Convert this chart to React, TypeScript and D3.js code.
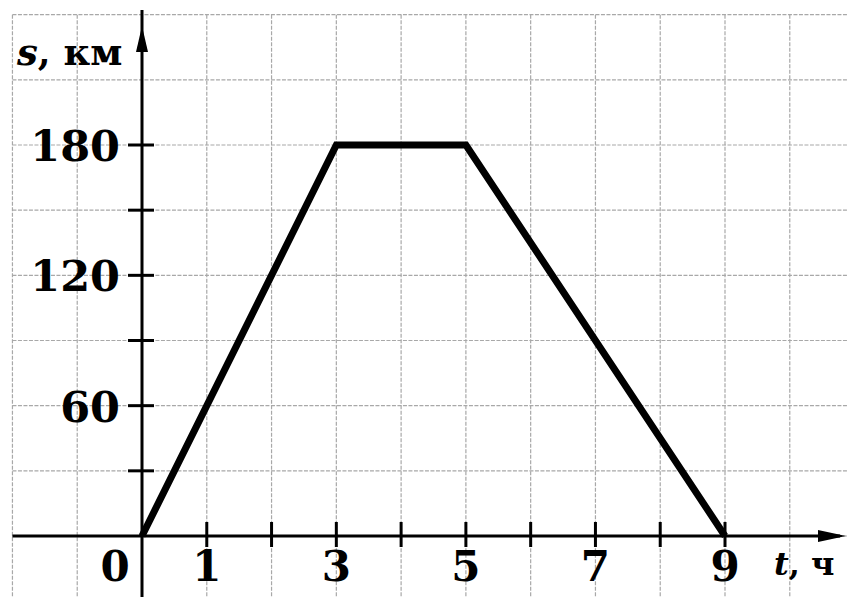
import React from 'react';
import * as d3 from 'd3';

// points of the distance/time graph
const hours = [0, 3, 5, 9];
const distance = [0, 180, 180, 0];

const yTickLabels = [60, 120, 180];
const xTickLabels = [0, 1, 3, 5, 7, 9];
const yTicks = [30, 60, 90, 120, 150, 180];
const xTicks = [1, 2, 3, 4, 5, 6, 7, 8, 9];

export default function App() {
  const width = 848, height = 597;

  const x = d3.scaleLinear().domain([0, 9]).range([142, 725]);
  const y = d3.scaleLinear().domain([0, 180]).range([536, 145]);

  const gridX = d3.range(-2, 13);
  const gridY = d3.range(0, 270, 30);

  const line = d3.line<number>()
    .x((d, i) => x(hours[i]))
    .y(d => y(d));

  const font = '"DejaVu Serif", serif';
  const x0 = x(0), y0 = y(0);

  return (
    <svg width={width} height={height} style={{ position: 'absolute', left: 0, top: 0, background: '#fff' }}>
      <g stroke="#a8a8a8" strokeWidth={1.2} strokeDasharray="4 1.5">
        {gridX.map(v => (
          <line key={'gx' + v} x1={x(v)} x2={x(v)} y1={y(240)} y2={height} />
        ))}
        {gridY.map(v => (
          <line key={'gy' + v} x1={x(-2)} x2={width} y1={y(v)} y2={y(v)} />
        ))}
      </g>

      {/* axes */}
      <g stroke="#000" strokeWidth={3}>
        <line x1={x(-2)} x2={840} y1={y0} y2={y0} />
        <line x1={x0} x2={x0} y1={height} y2={10} />
        {yTicks.map(v => (
          <line key={'yt' + v} x1={x0 - 14} x2={x0 + 12} y1={y(v)} y2={y(v)} />
        ))}
        {xTicks.map(v => (
          <line key={'xt' + v} x1={x(v)} x2={x(v)} y1={y0 - 14} y2={y0 + 11} />
        ))}
      </g>
      <path d={`M${x0},26 L${x0 - 6},52 L${x0 + 6},52 Z`} fill="#000" />
      <path d={`M846,${y0} L818,${y0 - 6} L818,${y0 + 6} Z`} fill="#000" />

      <path d={line(distance) || ''} fill="none" stroke="#000" strokeWidth={7} strokeLinejoin="miter" />

      <g fontFamily={font} fontWeight="bold" fontSize={43} fill="#000">
        {yTickLabels.map(v => (
          <text key={'yl' + v} x={x0 - 22} y={y(v) + 16} textAnchor="end">{v}</text>
        ))}
        {xTickLabels.map(v => (
          <text key={'xl' + v} x={v === 0 ? x0 - 27 : x(v)} y={581} textAnchor="middle" fontSize={42}>{v}</text>
        ))}
      </g>
      <text x={17} y={65} fontFamily={font} fontWeight="bold" fontSize={37} fill="#000">
        <tspan fontStyle="italic">s</tspan>, км
      </text>
      <text x={774} y={575} fontFamily={font} fontWeight="bold" fontSize={32} fill="#000">
        <tspan fontStyle="italic">t</tspan>, ч
      </text>
    </svg>
  );
}
